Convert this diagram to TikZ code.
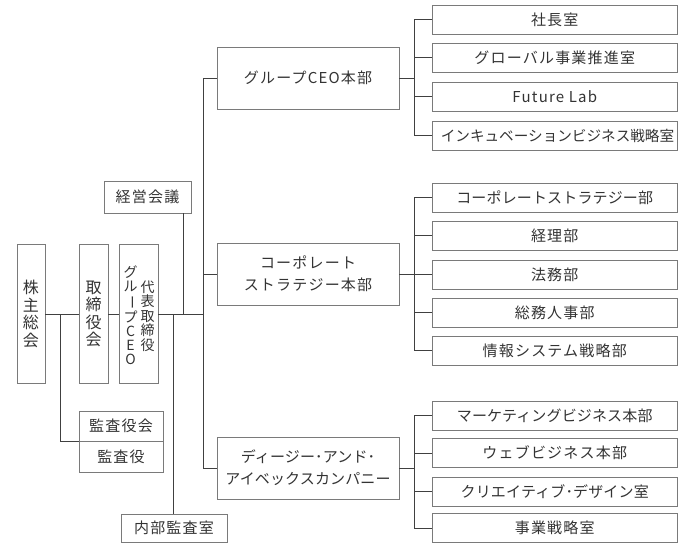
\documentclass[tikz,border=0pt]{standalone}
\usepackage{fontspec}
\usepackage{graphicx}
\newfontfamily\jp[LetterSpace=8]{Noto Sans CJK JP}
\newfontfamily\jpn[LetterSpace=1]{Noto Sans CJK JP}
\newfontfamily\jpv{Noto Sans CJK JP}
\newcommand\vchoon{\rotatebox[origin=c]{-90}{ー}}
\definecolor{boxc}{HTML}{7A7A7A}
\definecolor{linec}{HTML}{404040}
\definecolor{txt}{HTML}{333333}
\begin{document}
\begin{tikzpicture}[x=1pt,y=-1pt,
  box/.style={draw=boxc, line width=0.9pt, inner sep=0pt, text=txt,
    font=\jp\fontsize{15}{22}\selectfont, align=center},
  tight/.style={font=\jpn\fontsize{15}{22}\selectfont},
  vtext/.style={inner sep=0pt, text=txt, align=center},
  hq/.style={box, minimum width=182pt, minimum height=62pt},
  sub/.style={box, minimum width=245.5pt, minimum height=29pt},
  conn/.style={draw=linec, line width=0.9pt}]
\useasboundingbox (0,0) rectangle (678,543);

% left column
\node[box, minimum width=28pt, minimum height=139pt] (kabu) at (31,314) {};
\node[vtext, font=\jpv\fontsize{16}{17.5}\selectfont] (kabuT) at (kabu.center) {株\\主\\総\\会};
\node[box, minimum width=29pt, minimum height=139pt] (tori) at (93.5,314) {};
\node[vtext, font=\jpv\fontsize{16}{17.5}\selectfont] (toriT) at (tori.center) {取\\締\\役\\会};
\node[box, minimum width=39pt, minimum height=139pt] (ceo) at (138.5,314) {};
\node[vtext, font=\jpv\fontsize{14}{14.5}\selectfont] (ceoA) at (147.5,316) {代\\表\\取\\締\\役};
\node[vtext, font=\jpv\fontsize{14}{14}\selectfont] (ceoB) at (130.5,315.5) {グ\\ル\\\vchoon\\プ\\C\\E\\O};

\node[box, minimum width=87pt, minimum height=32pt] (keiei) at (147.5,197) {経営会議};
\node[box, minimum width=84pt, minimum height=30pt] (kyk) at (121,426) {監査役会};
\node[box, minimum width=84pt, minimum height=31pt] (ky) at (121,456.5) {監査役};
\node[box, minimum width=106pt, minimum height=28pt] (naibu) at (174,528) {内部監査室};

% headquarters
\node[hq] (hq1) at (308,78) {グループCEO本部};
\node[hq] (hq2) at (308,274) {コーポレート\\ストラテジー本部};
\node[hq, tight] (hq3) at (308,468) {ディージー･アンド･\\アイベックスカンパニー};

% sub units
\node[sub] (c1) at (554.75,19.5) {社長室};
\node[sub] (c2) at (554.75,57.5) {グローバル事業推進室};
\node[sub] (c3) at (554.75,96.5) {Future Lab};
\node[sub] (c4) at (554.75,135.5) {};
\node[vtext, font=\jpv\fontsize{14.6}{22}\selectfont] (c4T) at (557.5,135.5) {インキュベーションビジネス戦略室};

\node[sub, tight] (d1) at (554.75,197.5) {コーポレートストラテジー部};
\node[sub] (d2) at (554.75,235.5) {経理部};
\node[sub] (d3) at (554.75,274.5) {法務部};
\node[sub] (d4) at (554.75,312.5) {総務人事部};
\node[sub] (d5) at (554.75,350.5) {情報システム戦略部};

\node[sub, tight] (e1) at (554.75,415.5) {マーケティングビジネス本部};
\node[sub] (e2) at (554.75,453) {ウェブビジネス本部};
\node[sub, tight] (e3) at (554.75,491.5) {クリエイティブ･デザイン室};
\node[sub] (e4) at (554.75,528) {事業戦略室};

% connectors, left
\coordinate (m) at (203,314);
\draw[conn] (kabu.east) -- (tori.west) (tori.east) -- (ceo.west) (ceo.east) -- (m);
\coordinate (a1) at (60,314);
\draw[conn] (a1) |- (kyk.south west);
\coordinate (a2) at (173,314);
\draw[conn] (a2) -- (a2 |- naibu.north);
\coordinate (a3) at (183,314);
\draw[conn] (a3) -- (a3 |- keiei.south);

% main vertical
\coordinate (v) at (203,0);
\draw[conn] (hq1.west -| v) -- (hq3.west -| v);
\draw[conn] (hq1.west) -- (hq1.west -| v);
\draw[conn] (hq2.west) -- (hq2.west -| v);
\draw[conn] (hq3.west) -- (hq3.west -| v);

% brackets
\coordinate (w) at (414,0);
\draw[conn] (hq1.east) -- (hq1.east -| w);
\draw[conn] (c1.west) -- (c1.west -| w) -- (c4.west -| w) -- (c4.west);
\draw[conn] (c2.west) -- (c2.west -| w) (c3.west) -- (c3.west -| w);

\draw[conn] (hq2.east) -- (hq2.east -| w);
\draw[conn] (d1.west) -- (d1.west -| w) -- (d5.west -| w) -- (d5.west);
\draw[conn] (d2.west) -- (d2.west -| w) (d3.west) -- (d3.west -| w) (d4.west) -- (d4.west -| w);

\draw[conn] (hq3.east) -- (hq3.east -| w);
\draw[conn] (e1.west) -- (e1.west -| w) -- (e4.west -| w) -- (e4.west);
\draw[conn] (e2.west) -- (e2.west -| w) (e3.west) -- (e3.west -| w);
\end{tikzpicture}
\end{document}
